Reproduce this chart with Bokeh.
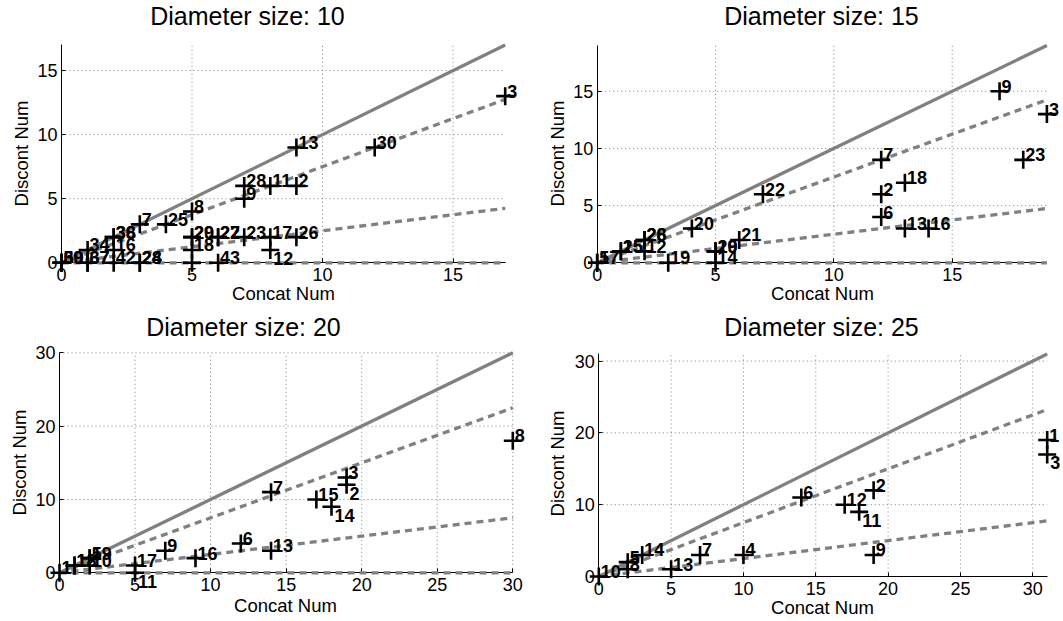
import math
from bokeh.plotting import figure
from bokeh.layouts import column, row
from bokeh.models import ColumnDataSource, Range1d, FixedTicker
from bokeh.embed import file_html
from bokeh.resources import INLINE
from bokeh.core.properties import value

FONT = "Liberation Sans"

# ---------------- data ----------------
slopes = [1.0, 0.75, 0.25, 0.0]

d10_x = [0, 0, 0, 1, 1, 1, 2, 2, 2, 2, 3, 3, 3, 4, 5, 5, 5, 5, 5, 6, 6, 6, 7, 7, 7, 8, 8, 8, 9, 9, 9, 12, 17]
d10_y = [0, 0, 0, 0, 0, 1, 0, 1, 2, 2, 0, 0, 3, 3, 4, 0, 1, 2, 2, 0, 2, 2, 5, 6, 2, 6, 2, 1, 6, 9, 2, 9, 13]
d10_id = ["39", "60", "59", "37", "67", "34", "42", "16", "36", "38", "28", "24", "7", "25", "8",
          "", "18", "20", "29", "43", "22", "27", "9", "28", "23", "11", "17", "12", "2", "13", "26", "30", "3"]
d10_below = ["12"]

d15_x = [0, 0, 1, 1, 2, 2, 2, 3, 4, 5, 5, 5, 6, 7, 12, 12, 12, 13, 13, 14, 17, 18, 19]
d15_y = [0, 0, 1, 1, 1, 2, 2, 0, 3, 0, 1, 1, 2, 6, 9, 6, 4, 7, 3, 3, 15, 9, 13]
d15_id = ["5", "17", "25", "15", "12", "26", "28", "19", "20", "14", "29", "10", "21", "22",
          "7", "2", "6", "18", "13", "16", "9", "23", "3"]
d15_below = []

d20_x = [0, 1, 1, 2, 2, 2, 5, 5, 7, 9, 12, 14, 14, 17, 18, 19, 19, 30]
d20_y = [0, 1, 1, 2, 2, 1, 1, 0, 3, 2, 4, 3, 11, 10, 9, 13, 12, 18]
d20_id = ["1", "12", "18", "5", "19", "10", "17", "11", "9", "16", "6", "13", "7", "15", "14", "3", "2", "8"]
d20_below = ["11", "14", "2"]

d25_x = [0, 2, 2, 3, 5, 7, 10, 14, 17, 18, 19, 19, 31, 31]
d25_y = [0, 1, 2, 3, 1, 3, 3, 11, 10, 9, 12, 3, 19, 17]
d25_id = ["10", "8", "5", "14", "13", "7", "4", "6", "12", "11", "2", "9", "1", "3"]
d25_below = ["11", "3"]

# ---------------- layout (pixels inside each figure) ----------------
panels = [
    dict(title="Diameter size: 10", xs=d10_x, ys=d10_y, ids=d10_id, below=d10_below,
         xmax=17, ymax=17, xt=[0, 5, 10, 15], yt=[0, 5, 10, 15], n_lines=4,
         W=531, H=310, L=61.0, R=504.7, T=44.4, B=262.3,
         title_at=(247, 15), xlab_at=(283, 293), ylab_at=(21, 153)),
    dict(title="Diameter size: 15", xs=d15_x, ys=d15_y, ids=d15_id, below=d15_below,
         xmax=19, ymax=19, xt=[0, 5, 10, 15], yt=[0, 5, 10, 15], n_lines=4,
         W=532, H=310, L=65.7, R=515.4, T=45.0, B=262.3,
         title_at=(290, 15), xlab_at=(291, 293), ylab_at=(26, 153)),
    dict(title="Diameter size: 20", xs=d20_x, ys=d20_y, ids=d20_id, below=d20_below,
         xmax=30, ymax=30, xt=[0, 5, 10, 15, 20, 25, 30], yt=[0, 10, 20, 30], n_lines=4,
         W=531, H=311, L=59.0, R=512.3, T=42.3, B=262.3,
         title_at=(243, 16), xlab_at=(285, 295), ylab_at=(19, 152)),
    dict(title="Diameter size: 25", xs=d25_x, ys=d25_y, ids=d25_id, below=d25_below,
         xmax=31, ymax=31, xt=[0, 5, 10, 15, 20, 25, 30], yt=[0, 10, 20, 30], n_lines=3,
         W=532, H=311, L=67.3, R=515.7, T=43.4, B=266.0,
         title_at=(290, 16), xlab_at=(291, 297), ylab_at=(26, 153)),
]


def make(pp):
    L, R, T, B, W, H = pp["L"], pp["R"], pp["T"], pp["B"], pp["W"], pp["H"]
    xmax, ymax = pp["xmax"], pp["ymax"]
    kx = xmax / (R - L)
    ky = ymax / (B - T)

    def to_data(sx, sy):
        return (sx - L) * kx, (B - sy) * ky

    x_lo, y_hi = to_data(0, 0)
    x_hi, y_lo = to_data(W, H)

    p = figure(width=W, height=H, x_range=Range1d(x_lo, x_hi), y_range=Range1d(y_lo, y_hi),
               output_backend="svg", toolbar_location=None,
               min_border_left=0, min_border_right=0, min_border_top=0, min_border_bottom=0)
    p.title = None
    p.outline_line_color = None
    p.background_fill_color = "white"
    p.border_fill_color = "white"
    p.xgrid.visible = False
    p.ygrid.visible = False

    for ax, ticks, bnd in ((p.xaxis, pp["xt"], (0, xmax)), (p.yaxis, pp["yt"], (0, ymax))):
        ax.ticker = FixedTicker(ticks=ticks)
        ax.fixed_location = 0
        ax.bounds = bnd
        ax.major_label_text_font = FONT
        ax.major_label_text_font_size = "18px"
        ax.major_label_text_color = "black"
        ax.axis_line_color = "black"
        ax.axis_line_width = 1
        ax.major_tick_in = 4
        ax.major_tick_out = 0
        ax.minor_tick_in = 0
        ax.minor_tick_out = 0
        ax.major_tick_line_color = "black"
    p.xaxis.major_label_standoff = 5
    p.yaxis.major_label_standoff = 4

    # dotted grid at the tick values
    gx = [t for t in pp["xt"] if t > 0]
    gy = [t for t in pp["yt"] if t > 0]
    p.segment(x0=gx, y0=[0] * len(gx), x1=gx, y1=[ymax] * len(gx),
              line_color="#808080", line_dash="1 3", line_width=1, level="underlay")
    p.segment(x0=[0] * len(gy), y0=gy, x1=[xmax] * len(gy), y1=gy,
              line_color="#808080", line_dash="1 3", line_width=1, level="underlay")

    # reference lines y = s * x
    for k, s in enumerate(slopes[:pp["n_lines"]]):
        dash = "solid" if k == 0 else "7 5"
        p.line([0, xmax], [0, s * xmax], line_color="#808080", line_width=3.3,
               line_dash=dash, level="annotation")

    xs, ys = pp["xs"], pp["ys"]
    src = ColumnDataSource(dict(x=xs, y=ys))
    p.scatter("x", "y", source=src, marker="cross", size=18, line_width=2.6,
              line_color="black", level="annotation")

    above = [i for i, t in enumerate(pp["ids"]) if t not in pp["below"]]
    below = [i for i, t in enumerate(pp["ids"]) if t in pp["below"]]
    sa = ColumnDataSource(dict(x=[xs[i] for i in above], y=[ys[i] for i in above],
                               t=[pp["ids"][i] for i in above]))
    sb = ColumnDataSource(dict(x=[xs[i] for i in below], y=[ys[i] for i in below],
                               t=[pp["ids"][i] for i in below]))
    common = dict(text="t", text_font=value(FONT), text_font_style="bold",
                  text_font_size="18px", text_color="black", text_align="left",
                  level="annotation")
    p.text("x", "y", source=sa, x_offset=2, y_offset=-5, text_baseline="alphabetic", **common)
    p.text("x", "y", source=sb, x_offset=3, y_offset=2, text_baseline="top", **common)

    # title and axis labels
    tx, ty = to_data(*pp["title_at"])
    p.text(x=[tx], y=[ty], text=[pp["title"]], text_font=value(FONT), text_font_size="25px",
           text_align="center", text_baseline="middle", text_color="black", level="annotation")
    lx, ly = to_data(*pp["xlab_at"])
    p.text(x=[lx], y=[ly], text=["Concat Num"], text_font=value(FONT), text_font_size="18.5px",
           text_align="center", text_baseline="middle", text_color="black", level="annotation")
    vx, vy = to_data(*pp["ylab_at"])
    p.text(x=[vx], y=[vy], text=["Discont Num"], text_font=value(FONT), text_font_size="18.5px",
           text_align="center", text_baseline="middle", text_color="black", angle=math.pi / 2,
           level="annotation")
    return p


figs = [make(pp) for pp in panels]
layout = column(row(figs[0], figs[1]), row(figs[2], figs[3]))
open("out.html", "w").write(file_html(layout, INLINE))
